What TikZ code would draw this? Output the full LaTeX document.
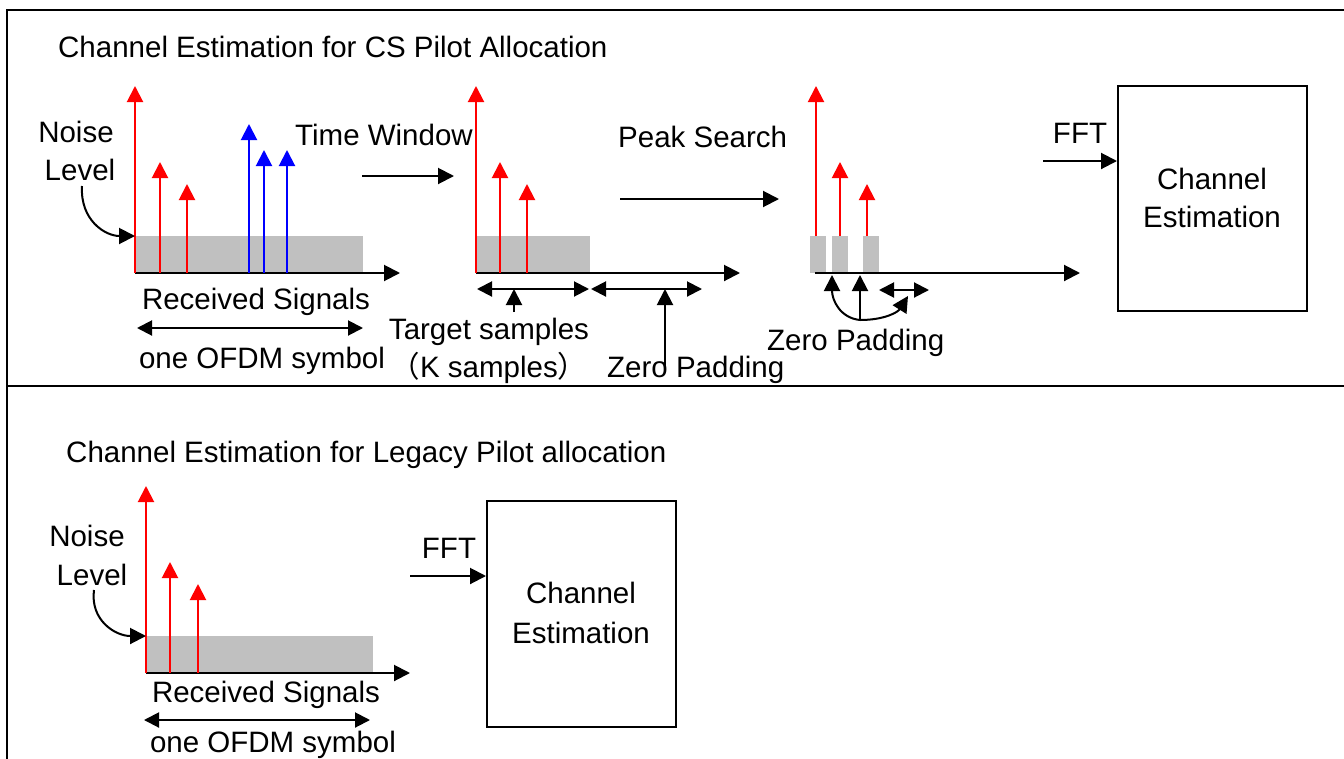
\documentclass[tikz,border=0pt]{standalone}
\usepackage{fontspec}
\setmainfont{Liberation Sans}
\newfontfamily\cjk{Noto Sans CJK JP}
\usetikzlibrary{arrows.meta}
\definecolor{noisegray}{HTML}{C0C0C0}
\begin{document}
\begin{tikzpicture}[x=1pt,y=-1pt,
  >={Triangle[length=16pt,width=16pt]},
  lbl/.style={font=\fontsize{29.5}{34}\selectfont, inner sep=0pt, anchor=base},
  lblw/.style={lbl, anchor=base west},
  frame/.style={line width=2pt},
  axis/.style={line width=2pt, ->},
  redsig/.style={red, line width=2pt, ->},
  bluesig/.style={blue, line width=2pt, ->},
  noise/.style={fill=noisegray, draw=none},
  span/.style={line width=2pt, {Triangle[length=15pt,width=15pt]}-{Triangle[length=15pt,width=15pt]}},
  pointer/.style={line width=2pt, ->},
  block/.style={draw, line width=2pt, inner sep=0pt}]
\useasboundingbox (0,0) rectangle (1344,758);

% outer frame and divider
\draw[frame] (1344,10) -- (7,10) -- (7,760);
\draw[frame] (7,386) -- (1344,386);

% ===================== upper section =====================
\node[lblw] (t1) at (58,57) {Channel Estimation for CS Pilot Allocation};

% --- received signals ---
\fill[noise] (135,236) rectangle (363,273);
\coordinate (o1) at (135,273);
\draw[axis] (o1) -- (400,273);
\draw[redsig] (135,273) -- (135,86);
\draw[redsig] (160,273) -- (160,162);
\draw[redsig] (187,273) -- (187,184);
\draw[bluesig] (249,273) -- (249,124);
\draw[bluesig] (264,273) -- (264,150);
\draw[bluesig] (287,273) -- (287,150);

\node[lbl] (n1a) at (76,142) {Noise};
\node[lbl] (n1b) at (80,180) {Level};
\coordinate (nl1) at (135,236);
\draw[pointer] (82,186) .. controls (80,220) and (105,236) .. (nl1);

\node[lbl] (rs1) at (256,309) {Received Signals};
\coordinate (s1a) at (137,328);
\coordinate (s1b) at (363,328);
\draw[span] (s1a) -- (s1b);
\node[lbl] (sym1) at (262,368) {one OFDM symbol};

\node[lblw] (tw) at (295,145) {Time Window};
\coordinate (tw0) at (362,176);
\coordinate (tw1) at (454,176);
\draw[pointer] (tw0) -- (tw1);

% --- time-windowed signals ---
\fill[noise] (476,236) rectangle (590,273);
\draw[axis] (476,273) -- (740,273);
\draw[redsig] (476,273) -- (476,86);
\draw[redsig] (500,273) -- (500,162);
\draw[redsig] (527,273) -- (527,184);

\coordinate (k0) at (477,289);
\coordinate (k1) at (589,289);
\coordinate (z0) at (591,289);
\coordinate (z1) at (702,289);
\draw[span] (k0) -- (k1);
\draw[span] (z0) -- (z1);
\draw[pointer] (514,312) -- (514,289);
\draw[pointer] (665,371) -- (665,289);

\node[lbl] (ts) at (489,339) {Target samples};
\node[lbl] (ks) at (489,377) {{\cjk （}K samples{\cjk ）}};
\node[lblw] (zp1) at (607,377) {Zero Padding};

\node[lblw] (ps) at (618,147) {Peak Search};
\coordinate (ps0) at (620,199);
\coordinate (ps1) at (779,199);
\draw[pointer] (ps0) -- (ps1);

% --- peak-searched signals ---
\fill[noise] (810,236) rectangle (826,273);
\fill[noise] (832,236) rectangle (848,273);
\fill[noise] (863,236) rectangle (879,273);
\draw[axis] (815,273) -- (1080,273);
\draw[redsig] (816,236) -- (816,86);
\draw[redsig] (840,236) -- (840,162);
\draw[redsig] (867,236) -- (867,184);

\coordinate (zj) at (860,320);
\draw[pointer] (zj) .. controls (840,318) and (832,300) .. (832,275);
\draw[pointer] (zj) -- (860,275);
\draw[pointer] (zj) .. controls (885,320) and (898,312) .. (908,296);
\draw[span] (879,290) -- (929,290);
\node[lblw] (zp2) at (767,350) {Zero Padding};

% --- FFT and channel estimation ---
\node[block, minimum width=189pt, minimum height=225pt] (ce1) at (1212.5,198.5) {};
\node[lbl] (ce1a) at (1212,189) {Channel};
\node[lbl] (ce1b) at (1212,227) {Estimation};
\node[lbl] (fft1) at (1080,143) {FFT};
\coordinate (f1) at (1043,161);
\draw[pointer] (f1) -- (f1 -| ce1.west);

% ===================== lower section =====================
\node[lblw] (t2) at (66,462) {Channel Estimation for Legacy Pilot allocation};

\fill[noise] (146,636) rectangle (373,673);
\draw[axis] (146,673) -- (410,673);
\draw[redsig] (146,673) -- (146,486);
\draw[redsig] (170,673) -- (170,562);
\draw[redsig] (198,673) -- (198,584);

\node[lbl] (n2a) at (87,546) {Noise};
\node[lbl] (n2b) at (92,585) {Level};
\coordinate (nl2) at (146,636);
\draw[pointer] (94,590) .. controls (90,620) and (115,636) .. (nl2);

\node[lbl] (rs2) at (266,702) {Received Signals};
\coordinate (s2a) at (144,720);
\coordinate (s2b) at (370,720);
\draw[span] (s2a) -- (s2b);
\node[lbl] (sym2) at (273,752) {one OFDM symbol};

\node[block, minimum width=189pt, minimum height=226pt] (ce2) at (581.5,614) {};
\node[lbl] (ce2a) at (581,603) {Channel};
\node[lbl] (ce2b) at (581,643) {Estimation};
\node[lbl] (fft2) at (449,558) {FFT};
\coordinate (f2) at (410,576);
\draw[pointer] (f2) -- (f2 -| ce2.west);
\end{tikzpicture}
\end{document}
